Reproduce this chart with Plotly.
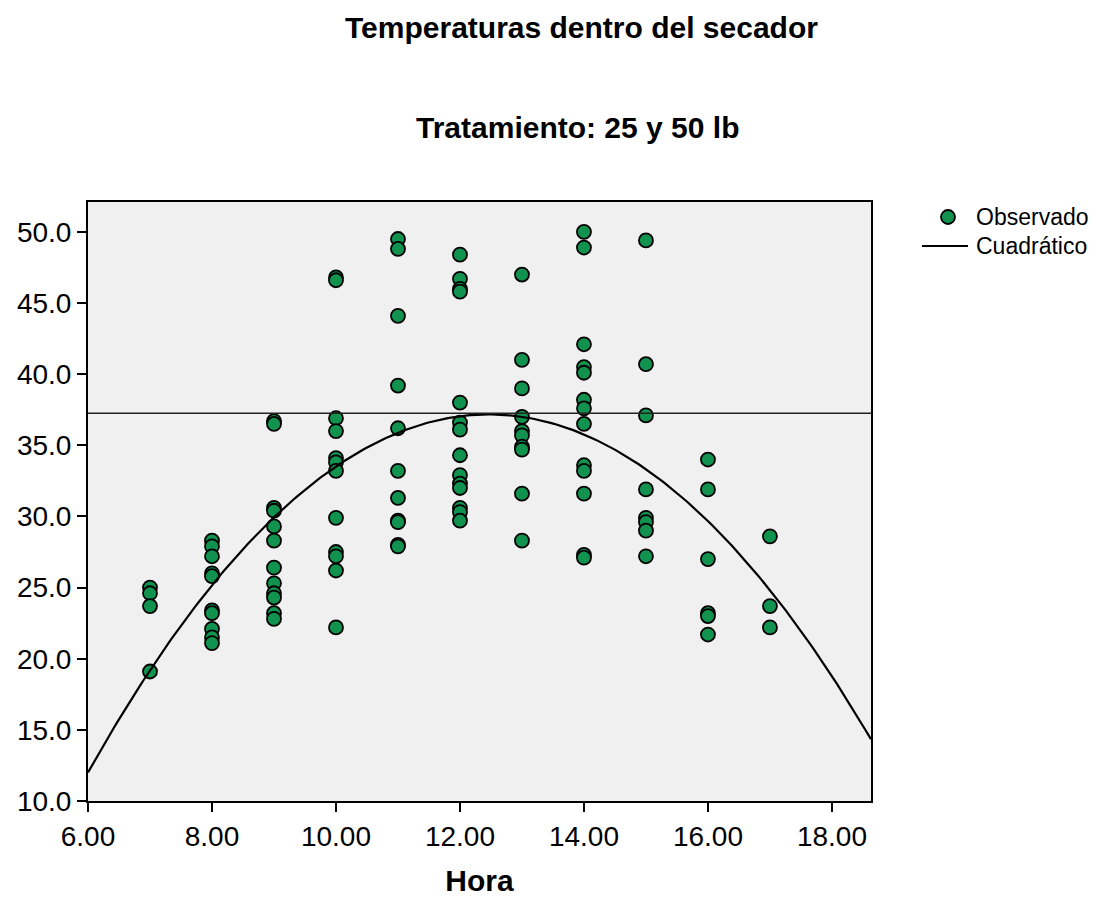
import numpy as np
import plotly.graph_objects as go

# Temperaturas observadas (°C) por hora del día
t07 = [25.0, 24.6, 23.7, 19.1]
t08 = [28.3, 27.9, 27.2, 26.0, 25.8, 23.4, 23.2, 22.1, 21.5, 21.1]
t09 = [36.7, 36.5, 30.6, 30.4, 29.3, 28.3, 26.4, 25.3, 24.6, 24.3, 23.2, 22.8]
t10 = [46.8, 46.6, 36.9, 36.0, 34.1, 33.8, 33.2, 29.9, 27.5, 27.2, 26.2, 22.2]
t11 = [49.5, 48.8, 44.1, 39.2, 36.2, 33.2, 31.3, 29.7, 29.6, 28.0, 27.9]
t12 = [48.4, 46.7, 46.0, 45.8, 38.0, 36.6, 36.1, 34.3, 32.9, 32.3, 32.0, 30.6, 30.3, 29.7]
t13 = [47.0, 41.0, 39.0, 37.0, 36.0, 35.7, 34.9, 34.7, 31.6, 28.3]
t14 = [50.0, 48.9, 42.1, 40.5, 40.1, 38.2, 37.6, 36.5, 33.6, 33.2, 31.6, 27.3, 27.1]
t15 = [49.4, 40.7, 37.1, 31.9, 29.9, 29.6, 29.0, 27.2]
t16 = [34.0, 31.9, 27.0, 23.2, 23.0, 21.7]
t17 = [28.6, 23.7, 22.2]

horas = [7, 8, 9, 10, 11, 12, 13, 14, 15, 16, 17]
temperaturas = [t07, t08, t09, t10, t11, t12, t13, t14, t15, t16, t17]

linea_ref = 37.25
x_ticks = [6, 8, 10, 12, 14, 16, 18]
x_tick_text = ["6.00", "8.00", "10.00", "12.00", "14.00", "16.00", "18.00"]
y_ticks = [10, 15, 20, 25, 30, 35, 40, 45, 50]
y_tick_text = ["10.0", "15.0", "20.0", "25.0", "30.0", "35.0", "40.0", "45.0", "50.0"]
leyenda = ["Observado", "Cuadrático"]

x_obs = np.concatenate([[h] * len(t) for h, t in zip(horas, temperaturas)])
y_obs = np.concatenate(temperaturas)

# Ajuste cuadrático de la temperatura frente a la hora
coef = np.polyfit(x_obs, y_obs, 2)
x_min, x_max = 6.0, 18.63
x_fit = np.linspace(x_min, x_max, 300)
y_fit = np.polyval(coef, x_fit)

FONT = "Arial, Liberation Sans, sans-serif"
W, H = 1094, 897
PLOT_L, PLOT_R, PLOT_T, PLOT_B = 88, 871, 202, 801
plot_w = PLOT_R - PLOT_L
plot_h = PLOT_B - PLOT_T
VERDE = "#11924e"


def px_x(px):
    return (px - PLOT_L) / plot_w


def px_y(py):
    return (PLOT_B - py) / plot_h


fig = go.Figure()
fig.add_trace(go.Scatter(
    x=x_obs, y=y_obs, mode="markers", name=leyenda[0],
    marker=dict(size=14, color=VERDE, line=dict(color="black", width=1.8)),
))
fig.add_trace(go.Scatter(
    x=x_fit, y=y_fit, mode="lines", name=leyenda[1],
    line=dict(color="black", width=2.2),
))

# Línea horizontal de referencia
fig.add_shape(type="line", xref="x", yref="y", x0=x_min, x1=x_max,
              y0=linea_ref, y1=linea_ref, line=dict(color="#222222", width=1.5))

# Leyenda a la derecha del área de trazado
fig.add_shape(type="circle", xref="paper", yref="paper",
              xsizemode="pixel", ysizemode="pixel",
              xanchor=px_x(948), yanchor=px_y(217), x0=-7, x1=7, y0=-7, y1=7,
              fillcolor=VERDE, line=dict(color="black", width=1.8))
fig.add_shape(type="line", xref="paper", yref="paper",
              x0=px_x(922), x1=px_x(968), y0=px_y(246), y1=px_y(246),
              line=dict(color="black", width=2))

annotations = [
    dict(text="<b>Temperaturas dentro del secador</b>", x=px_x(581), y=px_y(27),
         xanchor="center", yanchor="middle", font=dict(size=30, family=FONT)),
    dict(text="<b>Tratamiento: 25 y 50 lb</b>", x=px_x(577), y=px_y(127),
         xanchor="center", yanchor="middle", font=dict(size=30, family=FONT)),
    dict(text=leyenda[0], x=px_x(974), y=px_y(217), xanchor="left", yanchor="middle",
         font=dict(size=23, family=FONT)),
    dict(text=leyenda[1], x=px_x(974), y=px_y(246), xanchor="left", yanchor="middle",
         font=dict(size=23, family=FONT)),
]
for a in annotations:
    a.update(xref="paper", yref="paper", showarrow=False)

fig.update_layout(
    width=W, height=H,
    margin=dict(l=PLOT_L, r=W - PLOT_R, t=PLOT_T, b=H - PLOT_B, autoexpand=False),
    paper_bgcolor="white",
    plot_bgcolor="#f0f0f0",
    font=dict(family=FONT, color="black"),
    showlegend=False,
    annotations=annotations,
)

fig.update_xaxes(
    range=[x_min, x_max], tickvals=x_ticks, ticktext=x_tick_text, automargin=False,
    showgrid=False, zeroline=False, showline=True, linecolor="black", linewidth=2,
    mirror=True, ticks="outside", ticklen=9, tickwidth=2, tickcolor="black",
    tickfont=dict(size=28, family=FONT),
    title=dict(text="<b>Hora</b>", font=dict(size=30, family=FONT), standoff=30),
)
fig.update_yaxes(
    range=[10, 52.1], tickvals=y_ticks, ticktext=y_tick_text, automargin=False,
    showgrid=False, zeroline=False, showline=True, linecolor="black", linewidth=2,
    mirror=True, ticks="outside", ticklen=9, tickwidth=2, tickcolor="black",
    tickfont=dict(size=28, family=FONT),
)

fig.write_html("out.html")
